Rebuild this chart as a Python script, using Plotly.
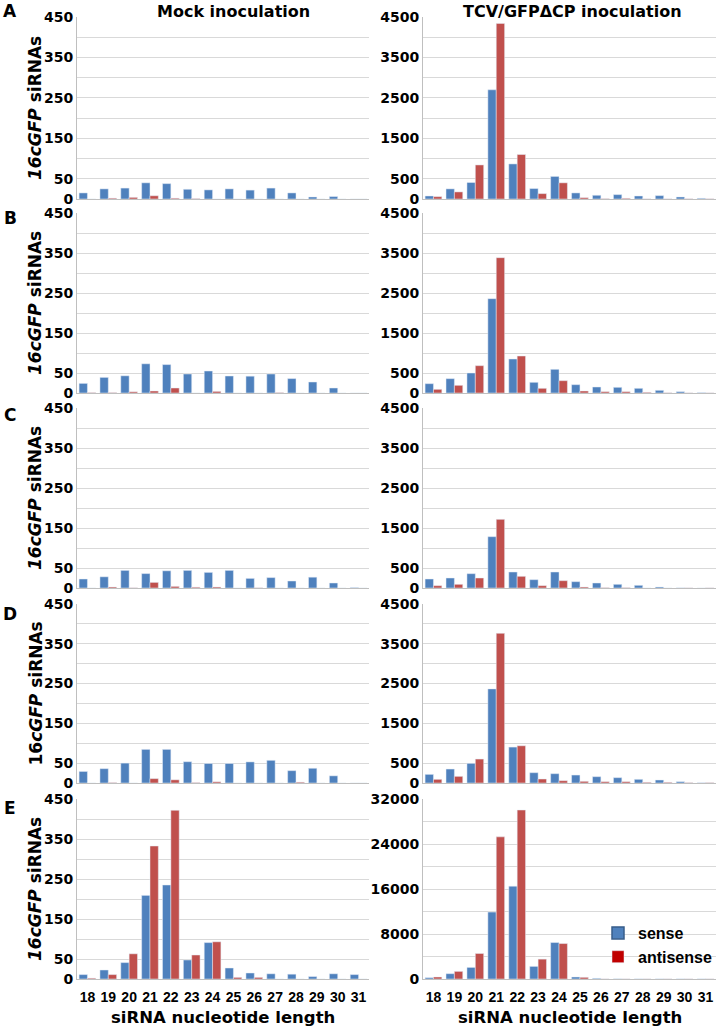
import plotly.graph_objects as go

W, H = 717, 1029

lengths = [str(i) for i in range(18, 32)]
row_letters = ["A", "B", "C", "D", "E"]
col_titles = ["Mock inoculation", "TCV/GFPΔCP inoculation"]

# Mock inoculation (left column), sense / antisense
mock_A_sense = [15, 25, 27, 40, 38, 24, 22.5, 25, 22, 27, 15, 5, 6, 0]
mock_A_anti = [0, 2, 4, 8, 2, 1, 0, 0, 0, 0, 0, 0, 0, 0]
mock_B_sense = [24, 39, 43, 73, 71, 47.5, 55, 42.5, 42, 47.5, 36, 27.5, 12.5, 0]
mock_B_anti = [1, 1, 3, 5, 12.5, 0, 4, 0, 0, 1, 0, 0, 0, 0]
mock_C_sense = [22.5, 28, 44, 36, 43, 44, 39, 44, 24, 26, 17.5, 27, 12.5, 1]
mock_C_anti = [0, 2.5, 0.5, 14, 4, 2, 2.5, 0, 0.5, 0, 0, 0, 0, 0]
mock_D_sense = [29, 36, 50, 84.5, 84.5, 53.5, 49, 49, 53, 57, 31, 37, 18, 0]
mock_D_anti = [0, 1, 0, 11, 8, 1, 3, 0, 0, 0, 2, 0, 0, 0]
mock_E_sense = [11, 22.5, 41, 209, 235, 47.5, 91, 27.5, 15, 13, 12, 6, 13, 11]
mock_E_anti = [2, 11, 63, 332.5, 421.7, 60, 93, 4, 4, 0, 0, 0, 0, 0]

# TCV/GFPdeltaCP inoculation (right column), sense / antisense
tcv_A_sense = [75, 250, 408, 2700, 867, 258, 558, 150, 92, 108, 75, 83, 50, 17]
tcv_A_anti = [58, 175, 842, 4342, 1100, 133, 400, 33, 8, 17, 3, 3, 5, 5]
tcv_B_sense = [233, 358, 500, 2358, 850, 267, 592, 208, 150, 142, 117, 67, 33, 8]
tcv_B_anti = [92, 192, 683, 3383, 925, 117, 308, 50, 33, 33, 17, 5, 3, 3]
tcv_C_sense = [225, 250, 358, 1283, 400, 208, 400, 158, 125, 92, 67, 25, 3, 0]
tcv_C_anti = [58, 92, 250, 1717, 292, 58, 183, 25, 8, 8, 0, 0, 3, 3]
tcv_D_sense = [217, 351, 493, 2366, 903, 259, 234, 200, 159, 134, 92, 75, 33, 5]
tcv_D_anti = [92, 167, 602, 3763, 936, 100, 58, 42, 33, 33, 17, 17, 8, 8]
tcv_E_sense = [235, 942, 2060, 11900, 16500, 2240, 6480, 353, 118, 30, 20, 20, 20, 20]
tcv_E_anti = [353, 1355, 4535, 25270, 30040, 3530, 6300, 295, 20, 20, 20, 20, 20, 20]

mock_sense = [mock_A_sense, mock_B_sense, mock_C_sense, mock_D_sense, mock_E_sense]
mock_anti = [mock_A_anti, mock_B_anti, mock_C_anti, mock_D_anti, mock_E_anti]
tcv_sense = [tcv_A_sense, tcv_B_sense, tcv_C_sense, tcv_D_sense, tcv_E_sense]
tcv_anti = [tcv_A_anti, tcv_B_anti, tcv_C_anti, tcv_D_anti, tcv_E_anti]

mock_ticks = [0, 50, 150, 250, 350, 450]
tcv_ticks = [0, 500, 1500, 2500, 3500, 4500]
tcv_E_ticks = [0, 8000, 16000, 24000, 32000]

BLUE = "#4F81BD"
RED = "#C0504D"
GRID = "#D9D9D9"
AXIS = "#BFBFBF"
FONT = "Liberation Sans, Arial, sans-serif"
WIDE = "DejaVu Sans, Verdana, sans-serif"

# pixel layout (window coordinates)
col_px = [(77, 369), (423, 716)]
row_px = [(17, 199), (213, 393), (408, 588), (604, 783), (799, 979)]


def px_x(p):
    return p / W


def px_y(p):
    return 1 - p / H


fig = go.Figure()
layout = {}

for r in range(5):
    for c in range(2):
        k = r * 2 + c + 1
        xname = "x" if k == 1 else f"x{k}"
        yname = "y" if k == 1 else f"y{k}"
        xkey = "xaxis" if k == 1 else f"xaxis{k}"
        ykey = "yaxis" if k == 1 else f"yaxis{k}"
        if c == 0:
            s, a = mock_sense[r], mock_anti[r]
            ymax, step, labels = 450, 50, mock_ticks
        else:
            s, a = tcv_sense[r], tcv_anti[r]
            if r == 4:
                ymax, step, labels = 32000, 4000, tcv_E_ticks
            else:
                ymax, step, labels = 4500, 500, tcv_ticks
        fig.add_trace(go.Bar(x=lengths, y=s, marker_color=BLUE, name="sense",
                             offsetgroup="s", showlegend=False,
                             xaxis=xname, yaxis=yname))
        fig.add_trace(go.Bar(x=lengths, y=a, marker_color=RED, name="antisense",
                             offsetgroup="a", showlegend=False,
                             xaxis=xname, yaxis=yname))
        tv = list(range(0, ymax + 1, step))
        tt = [str(v) if v in labels else "" for v in tv]
        layout[xkey] = dict(
            domain=[px_x(col_px[c][0]), min(1.0, px_x(col_px[c][1]))],
            anchor=yname, type="category", automargin=False,
            showline=True, linecolor=AXIS, linewidth=1,
            showgrid=False, ticks="",
            showticklabels=(r == 4),
            tickfont=dict(family=FONT, size=14, color="black", weight="bold"),
            ticklabelstandoff=5,
        )
        layout[ykey] = dict(
            domain=[px_y(row_px[r][1]), px_y(row_px[r][0])],
            anchor=xname, range=[0, ymax], automargin=False,
            tickmode="array", tickvals=tv, ticktext=tt,
            showgrid=True, gridcolor=GRID, gridwidth=1,
            showline=True, linecolor=AXIS, linewidth=1,
            ticks="", zeroline=False,
            tickfont=dict(family=WIDE, size=14, color="black", weight="bold"),
        )

# hidden axis pair carrying the legend entries
layout["xaxis11"] = dict(domain=[0, 0.001], anchor="y11", visible=False, range=[5, 6])
layout["yaxis11"] = dict(domain=[0, 0.001], anchor="x11", visible=False, range=[5, 6])
fig.add_trace(go.Bar(x=[0], y=[0], name="sense",
                     marker=dict(color=BLUE, line=dict(color="#385D8A", width=1.5)),
                     xaxis="x11", yaxis="y11", showlegend=True, hoverinfo="skip"))
fig.add_trace(go.Bar(x=[0], y=[0], name="antisense",
                     marker=dict(color="#C00000"),
                     xaxis="x11", yaxis="y11", showlegend=True, hoverinfo="skip"))

annotations = []


def ann(x, y, text, size, angle=0, family=WIDE):
    annotations.append(dict(x=px_x(x), y=px_y(y), text=text, textangle=angle,
                            showarrow=False, xref="paper", yref="paper",
                            xanchor="center", yanchor="middle",
                            font=dict(family=family, size=size, color="black")))


ann(233, 11, "<b>Mock inoculation</b>", 16)
ann(572, 11, "<b>TCV/GFPΔCP inoculation</b>", 16)
letter_y = [11, 218, 415, 614, 808]
for r in range(5):
    ann(10, letter_y[r], f"<b>{row_letters[r]}</b>", 17)
    yc = (row_px[r][0] + row_px[r][1]) / 2
    ytxt = "<b>16<i>cGFP</i> siRNAs</b>" if r == 3 else "<b><i>16cGFP</i> siRNAs</b>"
    ann(35, yc, ytxt, 17, angle=-90)
for c in range(2):
    xc = (col_px[c][0] + col_px[c][1]) / 2
    ann(xc, 1017, "<b>siRNA nucleotide length</b>", 16.5)

fig.update_layout(
    width=W, height=H,
    margin=dict(l=0, r=0, t=0, b=0, autoexpand=False),
    paper_bgcolor="white", plot_bgcolor="white",
    barmode="group", bargap=0.2, bargroupgap=0,
    annotations=annotations,
    showlegend=True,
    legend=dict(x=px_x(598), y=px_y(916), xanchor="left", yanchor="top",
                bgcolor="rgba(0,0,0,0)",
                font=dict(family=FONT, size=16, color="black", weight="bold")),
    font=dict(family=FONT),
    **layout,
)

fig.write_html("out.html",
               config={"displayModeBar": False},
               post_script="document.body.style.margin='0px';document.body.style.padding='0px';")
